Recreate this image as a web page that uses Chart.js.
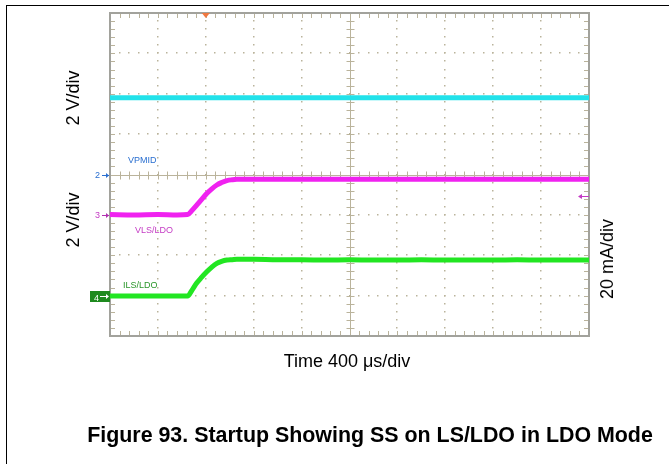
<!DOCTYPE html>
<html>
<head>
<meta charset="utf-8">
<script src="https://cdn.jsdelivr.net/npm/chart.js@4.4.1/dist/chart.umd.min.js"></script>
<style>
  html,body{margin:0;padding:0;background:#fff;}
  #wrap{position:relative;width:669px;height:464px;overflow:hidden;font-family:"Liberation Sans",Arial,sans-serif;}
  #c{position:absolute;left:0;top:0;}
  .frame{position:absolute;left:6px;top:5px;width:700px;height:500px;border-top:1px solid #000;border-left:1px solid #000;}
  .t{position:absolute;white-space:nowrap;line-height:1;}
  .rot{transform:translate(-50%,-50%) rotate(-90deg);}
  .ctr{transform:translate(-50%,-50%);}
  .lbl{font-size:9px;transform:translateY(-50%);}
</style>
</head>
<body>
<div id="wrap">
  <div class="frame"></div>
  <canvas id="c" width="669" height="464"></canvas>
  <div class="t rot" style="left:73px;top:98px;font-size:18px;">2 V/div</div>
  <div class="t rot" style="left:73px;top:220px;font-size:18px;">2 V/div</div>
  <div class="t rot" style="left:607px;top:259px;font-size:18px;">20 mA/div</div>
  <div class="t ctr" style="left:347px;top:361px;font-size:18px;">Time 400 &mu;s/div</div>
  <div class="t ctr" style="left:370px;top:436px;font-size:21.4px;font-weight:bold;">Figure 93. Startup Showing SS on LS/LDO in LDO Mode</div>
  <div class="t lbl" style="left:128px;top:160px;color:#2a6fd0;">VPMID</div>
  <div class="t lbl" style="left:135px;top:230px;color:#c43cc4;">VLS/LDO</div>
  <div class="t lbl" style="left:123px;top:285px;color:#2a962a;">ILS/LDO</div>
  <div class="t lbl" style="left:95px;top:175px;color:#2a6fd0;">2</div>
  <div class="t lbl" style="left:95px;top:215px;color:#c43cc4;">3</div>
  <div class="t lbl" style="left:94px;top:298px;color:#fff;">4</div>
</div>
<script>
// scope capture, x in divisions (400 us/div), y in divisions from bottom of screen
const TIME    = [0, 0.5, 1.0, 1.4, 1.62, 1.72, 1.81, 1.91, 2.02, 2.12, 2.23, 2.33, 2.44, 2.55, 2.65, 3.0, 3.5, 4.0, 4.5, 5.0, 5.5, 6.0, 6.5, 7.0, 7.5, 8.0, 8.5, 9.0, 9.5, 10];
const VPMID   = [5.9, 5.9, 5.9, 5.9, 5.9, 5.9, 5.9, 5.9, 5.9, 5.9, 5.9, 5.9, 5.9, 5.9, 5.9, 5.9, 5.9, 5.9, 5.9, 5.9, 5.9, 5.9, 5.9, 5.9, 5.9, 5.9, 5.9, 5.9, 5.9, 5.9];
const VLS_LDO = [3.01, 3.0, 3.01, 3.0, 3.01, 3.12, 3.24, 3.38, 3.53, 3.64, 3.74, 3.8, 3.85, 3.87, 3.88, 3.88, 3.88, 3.88, 3.88, 3.88, 3.88, 3.88, 3.88, 3.88, 3.88, 3.88, 3.88, 3.88, 3.88, 3.88];
const ILS_LDO = [0.99, 0.99, 0.99, 0.99, 0.99, 1.15, 1.31, 1.45, 1.59, 1.7, 1.8, 1.85, 1.88, 1.89, 1.9, 1.9, 1.89, 1.89, 1.88, 1.89, 1.88, 1.88, 1.89, 1.88, 1.88, 1.88, 1.89, 1.88, 1.88, 1.88];
const X_DIVS = 10, Y_DIVS = 8;

const TICK = '#bab39b', BORDER = '#a2a29c';

function pts(vals){ return TIME.map((t,i)=>({x:t, y:vals[i]})); }

const graticule = {
  id:'graticule',
  beforeDatasetsDraw(chart){
    const {ctx, chartArea:a, scales:{x,y}} = chart;
    ctx.save();
    ctx.fillStyle = '#fff';
    ctx.fillRect(a.left, a.top, a.right-a.left, a.bottom-a.top);
    ctx.fillStyle = TICK;
    // dotted major lines
    for(let i=1;i<X_DIVS;i++){
      if(i===X_DIVS/2) continue;
      const px = Math.round(x.getPixelForValue(i));
      for(let j=1;j<Y_DIVS*5;j++){ const py = y.getPixelForValue(j*0.2); ctx.fillRect(px-1, Math.round(py)-1, 1.5, 1.5); }
    }
    for(let j=1;j<Y_DIVS;j++){
      if(j===Y_DIVS/2) continue;
      const py = Math.round(y.getPixelForValue(j));
      for(let i=1;i<X_DIVS*5;i++){ const px = x.getPixelForValue(i*0.2); ctx.fillRect(Math.round(px)-1, py-1, 1.5, 1.5); }
    }
    // center cross with ticks
    ctx.strokeStyle = TICK; ctx.lineWidth = 1;
    const cx = Math.round(x.getPixelForValue(X_DIVS/2))+0.5, cy = Math.round(y.getPixelForValue(Y_DIVS/2))+0.5;
    ctx.beginPath();
    ctx.moveTo(a.left, cy); ctx.lineTo(a.right, cy);
    ctx.moveTo(cx, a.top); ctx.lineTo(cx, a.bottom);
    for(let i=1;i<X_DIVS*5;i++){ const px = Math.round(x.getPixelForValue(i*0.2))+0.5; ctx.moveTo(px, cy-4); ctx.lineTo(px, cy+4); }
    for(let j=1;j<Y_DIVS*5;j++){ const py = Math.round(y.getPixelForValue(j*0.2))+0.5; ctx.moveTo(cx-4, py); ctx.lineTo(cx+4, py); }
    // border ticks
    for(let i=1;i<X_DIVS*5;i++){
      const px = Math.round(x.getPixelForValue(i*0.2))+0.5;
      ctx.moveTo(px, a.top); ctx.lineTo(px, a.top+5);
      ctx.moveTo(px, a.bottom); ctx.lineTo(px, a.bottom-5);
    }
    for(let j=1;j<Y_DIVS*5;j++){
      const py = Math.round(y.getPixelForValue(j*0.2))+0.5;
      ctx.moveTo(a.left, py); ctx.lineTo(a.left+5, py);
      ctx.moveTo(a.right, py); ctx.lineTo(a.right-5, py);
    }
    ctx.stroke();
    ctx.strokeStyle = BORDER; ctx.lineWidth = 2;
    ctx.strokeRect(a.left, a.top, a.right-a.left, a.bottom-a.top);
    ctx.restore();
  },
  afterDatasetsDraw(chart){
    const {ctx, chartArea:a, scales:{x,y}} = chart;
    ctx.save();
    // trigger position
    const tx = x.getPixelForValue(2);
    ctx.fillStyle = '#f07840';
    ctx.beginPath(); ctx.moveTo(tx-4, a.top); ctx.lineTo(tx+4, a.top); ctx.lineTo(tx, a.top+5); ctx.closePath(); ctx.fill();
    // channel ground markers on the left
    const arrow = (py, col) => {
      ctx.strokeStyle = col; ctx.fillStyle = col; ctx.lineWidth = 1;
      ctx.beginPath(); ctx.moveTo(a.left-8, py+0.5); ctx.lineTo(a.left-1, py+0.5); ctx.stroke();
      ctx.beginPath(); ctx.moveTo(a.left-1, py+0.5); ctx.lineTo(a.left-4, py-2); ctx.lineTo(a.left-4, py+3); ctx.closePath(); ctx.fill();
    };
    arrow(Math.round(y.getPixelForValue(4)), '#2a6fd0');
    arrow(Math.round(y.getPixelForValue(3)), '#b030b0');
    const g = Math.round(y.getPixelForValue(1));
    ctx.fillStyle = '#1e8a1e'; ctx.fillRect(a.left-20, g-5, 20, 11);
    ctx.strokeStyle = '#fff'; ctx.fillStyle = '#fff';
    ctx.beginPath(); ctx.moveTo(a.left-10, g+0.5); ctx.lineTo(a.left-2, g+0.5); ctx.stroke();
    ctx.beginPath(); ctx.moveTo(a.left-1, g+0.5); ctx.lineTo(a.left-4, g-2); ctx.lineTo(a.left-4, g+3); ctx.closePath(); ctx.fill();
    // right side level marker
    const r = Math.round(y.getPixelForValue(3.47));
    ctx.strokeStyle = '#c43cc4'; ctx.fillStyle = '#c43cc4';
    ctx.beginPath(); ctx.moveTo(a.right-10, r+0.5); ctx.lineTo(a.right, r+0.5); ctx.stroke();
    ctx.beginPath(); ctx.moveTo(a.right-11, r+0.5); ctx.lineTo(a.right-7, r-2); ctx.lineTo(a.right-7, r+3); ctx.closePath(); ctx.fill();
    ctx.restore();
  }
};

new Chart(document.getElementById('c'), {
  type:'line',
  data:{ datasets:[
    { label:'VPMID', data:pts(VPMID), borderColor:'#22e2ea', borderWidth:5 },
    { label:'VLS/LDO', data:pts(VLS_LDO), borderColor:'#f022f0', borderWidth:5 },
    { label:'ILS/LDO', data:pts(ILS_LDO), borderColor:'#22e622', borderWidth:5 }
  ]},
  options:{
    responsive:false, animation:false, devicePixelRatio:1,
    layout:{ padding:{ left:110, right:80, top:13, bottom:128 } },
    elements:{ point:{ radius:0 }, line:{ tension:0, cubicInterpolationMode:'monotone' } },
    plugins:{ legend:{ display:false }, tooltip:{ enabled:false } },
    scales:{
      x:{ type:'linear', min:0, max:X_DIVS, display:false },
      y:{ type:'linear', min:0, max:Y_DIVS, display:false }
    }
  },
  plugins:[graticule]
});
</script>
</body>
</html>
